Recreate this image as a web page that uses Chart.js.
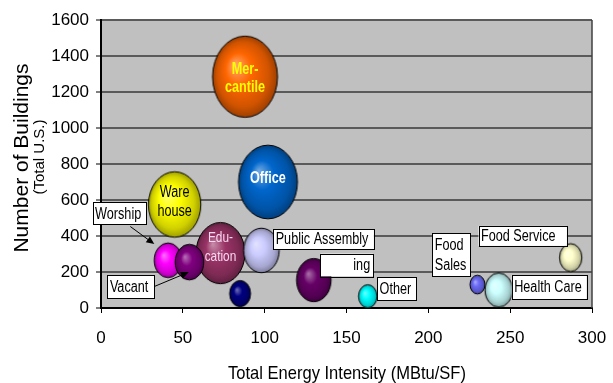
<!DOCTYPE html>
<html>
<head>
<meta charset="utf-8">
<script src="https://cdn.jsdelivr.net/npm/chart.js@4/dist/chart.umd.min.js"></script>
<style>
  html, body { margin: 0; padding: 0; background: #ffffff; }
  canvas { display: block; }
</style>
</head>
<body>
<canvas id="chart" width="613" height="383"></canvas>
<script>
// Building types, drawn in this order (later ones sit on top)
const categories = ['Mercantile', 'Office', 'Warehouse', 'Education', 'Public Assembly',
  'Worship', 'Vacant', 'Public Order', 'Lodging', 'Other', 'Food Sales', 'Health Care', 'Food Service'];
// Total energy intensity (MBtu/SF)
const intensity = [88, 102, 45, 73, 98, 41, 54, 85, 130, 163, 230, 243, 287];
// Number of buildings (total U.S.)
const buildings = [1285, 700, 575, 305, 320, 265, 255, 80, 155, 65, 130, 100, 280];
// Bubble size (relative floor space)
const floorspace = [1056, 870, 686, 600, 317, 193, 204, 110, 299, 86, 56, 188, 125];
// Axis ticks
const xTicks = [0, 50, 100, 150, 200, 250, 300];
const yTicks = [0, 200, 400, 600, 800, 1000, 1200, 1400, 1600];

// ---- styling ----
const bubbleColors = ['#FF6600', '#0066CC', '#FFFF00', '#993366', '#CCCCFF',
  '#FF00FF', '#800080', '#000080', '#660066', '#00FFFF', '#6A6AF5', '#CCFFFF', '#FFFFCC'];
const FONT = '"Liberation Sans", Arial, sans-serif';
const SQUEEZE = 0.79;      // horizontal compression of the in-plot lettering
const ELLIPSE = 1.25;      // bubble height / width

// Text printed inside the bubbles
const innerLabels = [
  { index: 0, lines: ['Mer-', 'cantile'], color: '#FFFF00', bold: true, size: 16, dy: 2, lh: 18 },
  { index: 1, lines: ['Office'], color: '#FFFFFF', bold: true, size: 16, dy: -3, lh: 18 },
  { index: 2, lines: ['Ware', 'house'], color: '#000000', bold: false, size: 16, dy: -2, lh: 19 },
  { index: 3, lines: ['Edu-', 'cation'], color: '#F6D8F0', bold: false, size: 15, dy: -6, lh: 19 }
];
// Boxed callouts: box offset from bubble centre, optional arrow (from, to) offsets
const callouts = [
  { index: 5, lines: ['Worship'], box: [-75.5, -57.8, 53.4, 22.3], arrow: [[-37.8, -33.8], [-13.8, -16.2]] },
  { index: 6, lines: ['Vacant'], box: [-82, 13, 46.7, 23.3], arrow: [[-35.3, 24.5], [-0.5, 10]] },
  { index: 4, lines: ['Public Assembly'], box: [11.8, -21, 100.7, 20.3] },
  { index: 8, lines: ['ing'], box: [6.7, -26.5, 52.7, 22.7], align: 'right' },
  { index: 9, lines: ['Other'], box: [9.3, -19, 39.4, 23.3] },
  { index: 10, lines: ['Food', 'Sales'], box: [-45.2, -51.2, 38.4, 42.7] },
  { index: 12, lines: ['Food Service'], box: [-92.2, -31.7, 88.4, 20] },
  { index: 11, lines: ['Health Care'], box: [13, -15, 75, 24] }
];

function shade(hex, amt) {
  const n = parseInt(hex.slice(1), 16);
  let r = n >> 16, g = (n >> 8) & 255, b = n & 255;
  if (amt >= 0) {
    r += (255 - r) * amt; g += (255 - g) * amt; b += (255 - b) * amt;
  } else {
    r *= 1 + amt; g *= 1 + amt; b *= 1 + amt;
  }
  return `rgb(${Math.round(r)},${Math.round(g)},${Math.round(b)})`;
}

// Shaded 3-D looking ellipse used as the point style of each bubble
function bubbleImage(rx, color) {
  const ry = rx * ELLIPSE;
  const c = document.createElement('canvas');
  const w = Math.ceil(rx * 2 + 4), h = Math.ceil(ry * 2 + 4);
  c.width = w; c.height = h;
  const g = c.getContext('2d');
  g.save();
  g.translate(w / 2, h / 2);
  g.scale(1, ry / rx);
  const grad = g.createRadialGradient(-0.32 * rx, -0.3 * rx, 0, 0, 0, rx);
  grad.addColorStop(0, shade(color, 0.45));
  grad.addColorStop(0.4, color);
  grad.addColorStop(0.8, shade(color, -0.18));
  grad.addColorStop(1, shade(color, -0.38));
  g.beginPath();
  g.arc(0, 0, rx, 0, Math.PI * 2);
  g.fillStyle = grad;
  g.fill();
  g.restore();
  g.beginPath();
  g.ellipse(w / 2, h / 2, rx, ry, 0, 0, Math.PI * 2);
  g.lineWidth = 1;
  g.strokeStyle = '#000000';
  g.stroke();
  return c;
}

const radii = floorspace.map(v => Math.sqrt(v));
const points = categories.map((name, i) => ({ x: intensity[i], y: buildings[i], r: radii[i] }));
const images = radii.map((r, i) => bubbleImage(r, bubbleColors[i]));

function squeezedText(ctx, text, x, y, sx) {
  ctx.save();
  ctx.translate(x, y);
  ctx.scale(sx, 1);
  ctx.fillText(text, 0, 0);
  ctx.restore();
}

const plotFrame = {
  id: 'plotFrame',
  beforeDraw(chart) {
    const { ctx, chartArea: a } = chart;
    ctx.save();
    ctx.fillStyle = '#C0C0C0';
    ctx.fillRect(a.left, a.top, a.right - a.left, a.bottom - a.top);
    ctx.restore();
  },
  beforeDatasetsDraw(chart) {
    const { ctx, chartArea: a } = chart;
    ctx.save();
    ctx.strokeStyle = '#404040';
    ctx.lineWidth = 1.5;
    ctx.beginPath();
    ctx.moveTo(a.right, a.top);
    ctx.lineTo(a.right, a.bottom);
    ctx.stroke();
    ctx.restore();
  }
};

const bubbleText = {
  id: 'bubbleText',
  afterDatasetsDraw(chart) {
    const ctx = chart.ctx;
    const els = chart.getDatasetMeta(0).data;
    ctx.save();
    ctx.textBaseline = 'middle';
    ctx.textAlign = 'center';
    innerLabels.forEach(l => {
      const el = els[l.index];
      ctx.font = `${l.bold ? 'bold ' : ''}${l.size}px ${FONT}`;
      ctx.fillStyle = l.color;
      const y0 = el.y + l.dy - (l.lines.length - 1) * l.lh / 2;
      l.lines.forEach((t, k) => squeezedText(ctx, t, el.x, y0 + k * l.lh, SQUEEZE));
    });

    ctx.font = `16px ${FONT}`;
    callouts.forEach(c => {
      const el = els[c.index];
      const [bx, by, bw, bh] = c.box;
      const x = el.x + bx, y = el.y + by;
      if (c.arrow) {
        const [p, q] = c.arrow;
        const x1 = el.x + p[0], y1 = el.y + p[1], x2 = el.x + q[0], y2 = el.y + q[1];
        const ang = Math.atan2(y2 - y1, x2 - x1);
        ctx.strokeStyle = '#000000';
        ctx.lineWidth = 1;
        ctx.beginPath();
        ctx.moveTo(x1, y1);
        ctx.lineTo(x2 - 6 * Math.cos(ang), y2 - 6 * Math.sin(ang));
        ctx.stroke();
        ctx.fillStyle = '#000000';
        ctx.beginPath();
        ctx.moveTo(x2, y2);
        ctx.lineTo(x2 - 8 * Math.cos(ang) + 3.5 * Math.sin(ang), y2 - 8 * Math.sin(ang) - 3.5 * Math.cos(ang));
        ctx.lineTo(x2 - 8 * Math.cos(ang) - 3.5 * Math.sin(ang), y2 - 8 * Math.sin(ang) + 3.5 * Math.cos(ang));
        ctx.closePath();
        ctx.fill();
      }
      ctx.fillStyle = '#FFFFFF';
      ctx.fillRect(x, y, bw, bh);
      ctx.strokeStyle = '#000000';
      ctx.lineWidth = 1;
      ctx.strokeRect(Math.round(x) + 0.5, Math.round(y) + 0.5, Math.round(bw), Math.round(bh));
      ctx.fillStyle = '#000000';
      const lh = 20;
      const ty0 = y + bh / 2 - (c.lines.length - 1) * lh / 2 + 0.5;
      c.lines.forEach((t, k) => {
        if (c.align === 'right') {
          ctx.textAlign = 'right';
          squeezedText(ctx, t, x + bw - 3, ty0 + k * lh, SQUEEZE);
        } else {
          ctx.textAlign = 'left';
          squeezedText(ctx, t, x + 2.5, ty0 + k * lh, SQUEEZE);
        }
      });
    });
    ctx.restore();
  }
};

const axisTitles = {
  id: 'axisTitles',
  afterDraw(chart) {
    const ctx = chart.ctx;
    ctx.save();
    ctx.fillStyle = '#000000';
    ctx.textAlign = 'center';
    ctx.textBaseline = 'alphabetic';
    ctx.font = `19px ${FONT}`;
    squeezedText(ctx, 'Total Energy Intensity (MBtu/SF)', 347, 379, 0.87);
    ctx.save();
    ctx.translate(28, 158);
    ctx.rotate(-Math.PI / 2);
    ctx.font = `21px ${FONT}`;
    ctx.fillText('Number of Buildings', 0, 0);
    ctx.restore();
    ctx.save();
    ctx.translate(44, 157);
    ctx.rotate(-Math.PI / 2);
    ctx.font = `15px ${FONT}`;
    ctx.fillText('(Total U.S.)', 0, 0);
    ctx.restore();
    ctx.restore();
  }
};

const noPad = s => { s.paddingLeft = 0; s.paddingRight = 0; s.paddingTop = 0; s.paddingBottom = 0; };

new Chart(document.getElementById('chart'), {
  type: 'bubble',
  data: {
    datasets: [{
      label: 'Building types',
      data: points,
      pointStyle: images,
      backgroundColor: bubbleColors,
      borderWidth: 0,
      clip: false
    }]
  },
  options: {
    responsive: false,
    animation: false,
    devicePixelRatio: 1,
    layout: { autoPadding: false, padding: { left: 0, top: 20, right: 21, bottom: 0 } },
    plugins: { legend: { display: false }, tooltip: { enabled: false } },
    scales: {
      x: {
        type: 'linear', min: 0, max: 300,
        afterBuildTicks: s => { s.ticks = xTicks.map(v => ({ value: v })); },
        afterFit: s => { s.height = 75; noPad(s); },
        ticks: { color: '#000000', font: { family: FONT, size: 17 }, padding: 15, maxRotation: 0,
          callback: v => String(v) },
        grid: { drawOnChartArea: false, tickLength: 5, tickColor: '#000000', tickWidth: 1 },
        border: { color: '#000000', width: 2 }
      },
      y: {
        type: 'linear', min: 0, max: 1600,
        afterBuildTicks: s => { s.ticks = yTicks.map(v => ({ value: v })); },
        afterFit: s => { s.width = 101; noPad(s); },
        ticks: { color: '#000000', font: { family: FONT, size: 17 }, padding: 7,
          callback: v => String(v) },
        grid: { color: '#5A5A5A', lineWidth: 2, tickLength: 5, tickColor: '#000000', tickWidth: 1 },
        border: { color: '#000000', width: 2 }
      }
    }
  },
  plugins: [plotFrame, bubbleText, axisTitles]
});
</script>
</body>
</html>
